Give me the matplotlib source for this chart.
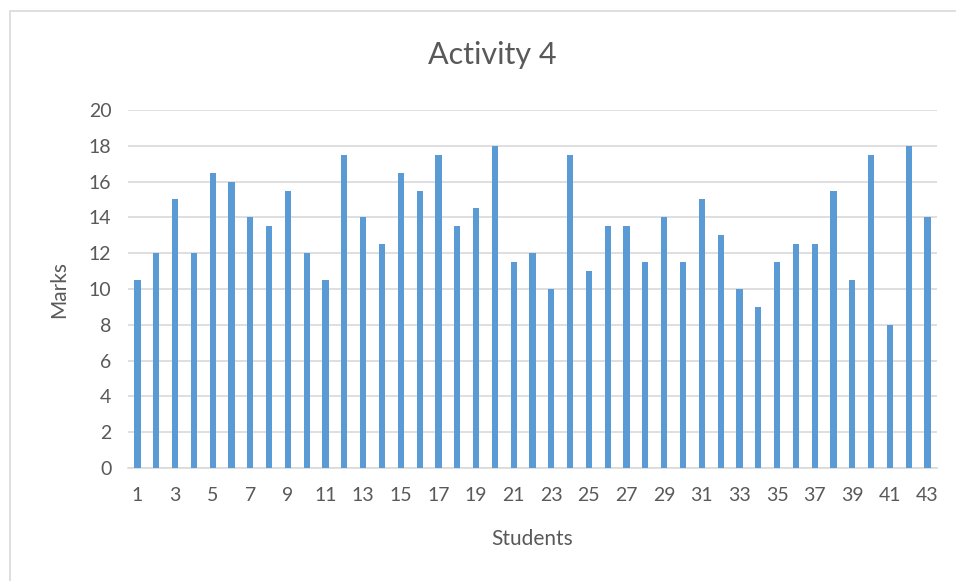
import matplotlib
matplotlib.use("Agg")
import matplotlib.pyplot as plt
from matplotlib.patches import Rectangle

students = list(range(1, 44))
marks = [10.5, 12, 15, 12, 16.5, 16, 14, 13.5, 15.5, 12,
         10.5, 17.5, 14, 12.5, 16.5, 15.5, 17.5, 13.5, 14.5, 18,
         11.5, 12, 10, 17.5, 11, 13.5, 13.5, 11.5, 14, 11.5,
         15, 13, 10, 9, 11.5, 12.5, 12.5, 15.5, 10.5, 17.5,
         8, 18, 14]
xtick_labels = [str(s) for s in students if s % 2 == 1]
yticks = list(range(0, 21, 2))

plt.rcParams['font.family'] = ['Lato', 'DejaVu Sans']
txt = '#595959'
fig = plt.figure(figsize=(9.56, 5.81), dpi=100)
fig.patches.append(Rectangle((10/956, -0.1), 1.2, 1 - 11/581 + 0.1,
                             transform=fig.transFigure, fill=False,
                             edgecolor='#D9D9D9', linewidth=1.2))
ax = fig.add_axes([128/956, 1 - 468/581, (937 - 128)/956, (468 - 110)/581])
ax.bar(students, marks, width=0.33, color='#5B9BD5', zorder=3)
ax.set_xlim(0.5, 43.5)
ax.set_ylim(0, 20)
ax.set_yticks(yticks)
ax.set_xticks([s for s in students if s % 2 == 1])
ax.set_xticklabels(xtick_labels)
ax.grid(axis='y', color='#D9D9D9', linewidth=1.2, zorder=0)
for sp in ['top', 'right', 'left']:
    ax.spines[sp].set_visible(False)
ax.spines['bottom'].set_color('#D9D9D9')
ax.spines['bottom'].set_linewidth(1.2)
ax.tick_params(axis='both', length=0, labelsize=14, colors=txt)
ax.tick_params(axis='x', pad=14)
ax.tick_params(axis='y', pad=12)
fig.text(492/956, 1 - 55/581, 'Activity 4', fontsize=22, color=txt,
         ha='center', va='center')
ax.set_xlabel('Students', fontsize=15, color=txt, labelpad=18)
ax.set_ylabel('Marks', fontsize=15, color=txt, labelpad=14)
fig.savefig('out.png', dpi=100)
